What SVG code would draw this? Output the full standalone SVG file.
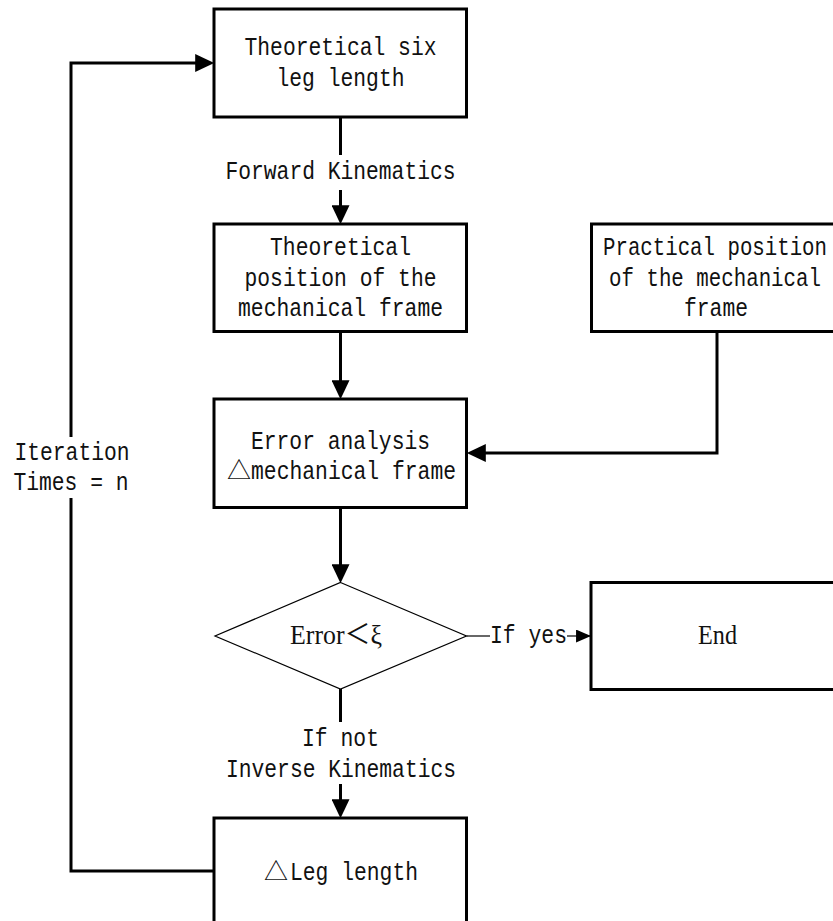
<svg xmlns="http://www.w3.org/2000/svg" width="833" height="921" viewBox="0 0 833 921">
  <style>
    .box { fill: #fff; stroke: #000; stroke-width: 3; }
    .dia { fill: #fff; stroke: #000; stroke-width: 1.2; }
    .wire { fill: none; stroke: #000; stroke-width: 3; }
    .thin { fill: none; stroke: #000; stroke-width: 1.2; }
    .t { font-family: "Liberation Mono", "DejaVu Sans Mono", monospace; font-size: 26px; fill: #111; text-anchor: middle; }
    .tl { font-family: "Liberation Mono", "DejaVu Sans Mono", monospace; font-size: 26px; fill: #111; }
    .sym { font-family: "Noto Sans CJK SC", "DejaVu Sans", sans-serif; font-size: 24px; fill: #111; }
    .s { font-family: "Liberation Serif", "Noto Sans CJK SC", serif; font-size: 27px; fill: #111; }
  </style>
  <defs>
    <marker id="arrow" markerUnits="userSpaceOnUse" markerWidth="20" markerHeight="18" viewBox="0 0 18 17" refX="14" refY="8.5" orient="auto">
      <path d="M0,0 L18,8.5 L0,17 z" fill="#000"/>
    </marker>
    <marker id="arrowSmall" markerUnits="userSpaceOnUse" markerWidth="15" markerHeight="13" viewBox="0 0 14 12" refX="13" refY="6" orient="auto">
      <path d="M0,0 L14,6 L0,12 z" fill="#000"/>
    </marker>
  </defs>

  <g id="connectors">
    <!-- feedback loop: leg length back to the top -->
    <path class="wire" d="M214,871 H71 V498"/>
    <path class="wire" d="M71,437 V63 H210" marker-end="url(#arrow)"/>
    <!-- forward kinematics -->
    <path class="wire" d="M340.5,117 V155"/>
    <path class="wire" d="M340.5,190 V220" marker-end="url(#arrow)"/>
    <!-- theoretical position to error analysis -->
    <path class="wire" d="M340.5,331.5 V395" marker-end="url(#arrow)"/>
    <!-- practical position to error analysis -->
    <path class="wire" d="M717,331.5 V453 H471" marker-end="url(#arrow)"/>
    <!-- error analysis to decision -->
    <path class="wire" d="M340.5,507.5 V579" marker-end="url(#arrow)"/>
    <!-- decision: yes -->
    <path class="thin" d="M466.5,636 H490"/>
    <path class="thin" d="M567,636 H590" marker-end="url(#arrowSmall)"/>
    <!-- decision: no -->
    <path class="wire" d="M340.5,689 V722"/>
    <path class="wire" d="M340.5,784 V814" marker-end="url(#arrow)"/>
    <!-- edge labels -->
    <text class="t" x="340.5" y="179" textLength="230" lengthAdjust="spacingAndGlyphs">Forward Kinematics</text>
    <text class="t" x="528.5" y="643" textLength="77" lengthAdjust="spacingAndGlyphs">If yes</text>
    <text class="t" x="340.5" y="746" textLength="77" lengthAdjust="spacingAndGlyphs">If not</text>
    <text class="t" x="341" y="777" textLength="230" lengthAdjust="spacingAndGlyphs">Inverse Kinematics</text>
    <text class="t" x="72" y="460" textLength="115" lengthAdjust="spacingAndGlyphs">Iteration</text>
    <text class="t" x="71" y="490" textLength="115" lengthAdjust="spacingAndGlyphs">Times = n</text>
  </g>

  <g id="leg-length">
    <rect class="box" x="214" y="9" width="252.5" height="108"/>
    <text class="t" x="340.5" y="55" textLength="192" lengthAdjust="spacingAndGlyphs">Theoretical six</text>
    <text class="t" x="340.5" y="86" textLength="128" lengthAdjust="spacingAndGlyphs">leg length</text>
  </g>

  <g id="theoretical-position">
    <rect class="box" x="214" y="224" width="252.5" height="107.5"/>
    <text class="t" x="340.5" y="255" textLength="141" lengthAdjust="spacingAndGlyphs">Theoretical</text>
    <text class="t" x="340.5" y="286" textLength="192" lengthAdjust="spacingAndGlyphs">position of the</text>
    <text class="t" x="340.5" y="316" textLength="205" lengthAdjust="spacingAndGlyphs">mechanical frame</text>
  </g>

  <g id="practical-position">
    <rect class="box" x="591.5" y="224" width="252" height="107.5"/>
    <text class="t" x="715" y="255" textLength="224" lengthAdjust="spacingAndGlyphs">Practical position</text>
    <text class="t" x="715" y="286" textLength="212" lengthAdjust="spacingAndGlyphs">of the mechanical</text>
    <text class="t" x="716" y="316" textLength="64" lengthAdjust="spacingAndGlyphs">frame</text>
  </g>

  <g id="error-analysis">
    <rect class="box" x="214" y="399" width="252.5" height="108.5"/>
    <text class="t" x="340.5" y="449" textLength="179" lengthAdjust="spacingAndGlyphs">Error analysis</text>
    <text class="sym" x="227" y="479">△</text>
    <text class="tl" x="251" y="479" textLength="205" lengthAdjust="spacingAndGlyphs">mechanical frame</text>
  </g>

  <g id="decision">
    <polygon class="dia" points="340.5,582.5 466.5,636 340.5,689 215,636"/>
    <text class="s" x="290" y="644" textLength="92" lengthAdjust="spacingAndGlyphs">Error＜ξ</text>
  </g>

  <g id="end">
    <rect class="box" x="591" y="582.5" width="252" height="107"/>
    <text class="s" x="717.5" y="644" text-anchor="middle" textLength="39" lengthAdjust="spacingAndGlyphs">End</text>
  </g>

  <g id="delta-leg-length">
    <rect class="box" x="214" y="818" width="252.5" height="115"/>
    <text class="sym" x="264" y="880">△</text>
    <text class="tl" x="290" y="880" textLength="128" lengthAdjust="spacingAndGlyphs">Leg length</text>
  </g>
</svg>
